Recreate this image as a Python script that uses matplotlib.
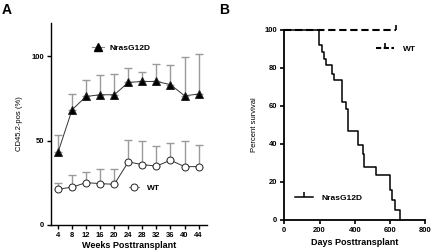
import matplotlib
matplotlib.use("Agg")
import matplotlib.pyplot as plt
from matplotlib.lines import Line2D

plt.rcParams['font.family'] = ['Liberation Sans', 'DejaVu Sans']

# Panel A data
weeks = [4, 8, 12, 16, 20, 24, 28, 32, 36, 40, 44]
nras_mean = [43, 68.3, 76.2, 77.2, 77.2, 84.5, 85.1, 85.1, 83.2, 76.6, 77.6]
nras_upper = [53.2, 77.8, 85.7, 88.9, 89.7, 92.9, 91.0, 95.2, 94.6, 99.4, 101.4]
wt_mean = [21.1, 22.3, 25.0, 24.4, 24.0, 37.3, 35.7, 34.8, 38.3, 34.5, 34.5]
wt_upper = [25.0, 29.4, 31.5, 33.0, 33.3, 50.4, 50.0, 46.8, 48.5, 49.6, 47.4]
a_yticks = [0, 50, 100]

# Panel B data
nras_days = [0, 197, 216, 225, 235, 272, 282, 326, 350, 359, 420, 445, 452, 518, 600, 609, 628, 656]
nras_surv = [100, 92.3, 88.6, 85, 81.6, 77, 73.7, 62.3, 58.3, 47, 39.5, 34.6, 28, 23.7, 15.8, 10.5, 5.3, 0]
wt_days = [0, 634]
wt_surv = [100, 100]
b_xticks = [0, 200, 400, 600, 800]
b_yticks = [0, 20, 40, 60, 80, 100]

fig = plt.figure(figsize=(4.32, 2.52), dpi=100)

tick_fs = 5.5
lab_fs = 6.5

# ---------- Panel A ----------
axA = fig.add_axes([51/432, 1-224.7/252, 155.7/432, 202/252])
for mean, upper, mk, mfc in [(nras_mean, nras_upper, '^', 'black'), (wt_mean, wt_upper, 'o', 'white')]:
    lower = [0]*len(mean)
    up = [u - m for u, m in zip(upper, mean)]
    eb = axA.errorbar(weeks, mean, yerr=[lower, up], fmt='none', ecolor='#9a9a9a',
                      elinewidth=1.0, capsize=3.2, capthick=1.0, zorder=1)
    for cl in eb[1]:
        cl.set_color('#444444')
    axA.plot(weeks, mean, color='#333333', lw=0.7, marker=mk, ms=5.5 if mk == '^' else 5,
             mfc=mfc, mec='#222222', mew=0.7, zorder=3)

axA.set_xlim(2, 46.3)
axA.set_ylim(0, 120)
axA.set_xticks(weeks)
axA.set_yticks(a_yticks)
for s in ['top', 'right']:
    axA.spines[s].set_visible(False)
for s in ['left', 'bottom']:
    axA.spines[s].set_linewidth(1.0)
axA.tick_params(labelsize=tick_fs, length=3, width=1.0, pad=2)
for t in axA.get_xticklabels() + axA.get_yticklabels():
    t.set_fontweight('bold')
axA.set_xlabel('Weeks Posttransplant', fontsize=lab_fs, fontweight='bold', labelpad=2)
axA.set_ylabel('CD45.2-pos (%)', fontsize=5.5, labelpad=6)

hA1 = Line2D([], [], color='#888888', lw=0.8, marker='^', ms=5.5, mfc='black', mec='black')
hA2 = Line2D([], [], color='#888888', lw=0.8, marker='o', ms=5, mfc='white', mec='#222222', mew=0.7)
legA1 = axA.legend(handles=[hA1], labels=['NrasG12D'], loc='center left', bbox_to_anchor=(0.261, 0.873),
                   frameon=False, borderpad=0, borderaxespad=0, handlelength=1.5, handletextpad=0.7,
                   prop={'size': 6, 'weight': 'bold'})
axA.add_artist(legA1)
axA.legend(handles=[hA2], labels=['WT'], loc='center left', bbox_to_anchor=(0.501, 0.18),
           frameon=False, borderpad=0, borderaxespad=0, handlelength=1.2, handletextpad=0.9,
           prop={'size': 6, 'weight': 'bold'})

# ---------- Panel B ----------
axB = fig.add_axes([284.3/432, 1-220/252, 141/432, 190/252])
axB.step(nras_days, nras_surv, where='post', color='black', lw=1.1, zorder=3, clip_on=False)
axB.plot(wt_days, wt_surv, color='black', lw=1.5, dashes=(3.5, 1.8), zorder=2, clip_on=False)
axB.plot(wt_days[-1:], wt_surv[-1:], ls='none', marker=2, ms=3.5, mew=1.2, color='black', clip_on=False)
axB.set_xlim(0, 800)
axB.set_ylim(0, 100)
axB.set_xticks(b_xticks)
axB.set_yticks(b_yticks)
for s in ['top', 'right']:
    axB.spines[s].set_visible(False)
for s in ['left', 'bottom']:
    axB.spines[s].set_linewidth(1.3)
axB.tick_params(labelsize=tick_fs, length=3, width=1.2, pad=2)
for t in axB.get_xticklabels() + axB.get_yticklabels():
    t.set_fontweight('bold')
axB.set_xlabel('Days Posttransplant', fontsize=lab_fs, fontweight='bold', labelpad=3)
axB.set_ylabel('Percent survival', fontsize=5.5, labelpad=5)

hB1 = Line2D([], [], color='black', lw=1.5, dashes=(2.5, 1.2), marker=2, ms=3.5, mew=1.2)
hB2 = Line2D([], [], color='black', lw=1.1, marker=2, ms=3.5, mew=1.1)
legB1 = axB.legend(handles=[hB1], labels=['WT'], loc='center left', bbox_to_anchor=(0.650, 0.898),
                   frameon=False, borderpad=0, borderaxespad=0, handlelength=2.2, handletextpad=1.0,
                   prop={'size': 6, 'weight': 'bold'})
axB.add_artist(legB1)
axB.legend(handles=[hB2], labels=['NrasG12D'], loc='center left', bbox_to_anchor=(0.076, 0.117),
           frameon=False, borderpad=0, borderaxespad=0, handlelength=2.1, handletextpad=1.1,
           prop={'size': 6, 'weight': 'bold'})

fig.text(2/432, 1-10/252, 'A', fontsize=10, fontweight='bold', va='center', ha='left')
fig.text(219/432, 1-10/252, 'B', fontsize=10, fontweight='bold', va='center', ha='left')

fig.savefig('out.png', dpi=100)
